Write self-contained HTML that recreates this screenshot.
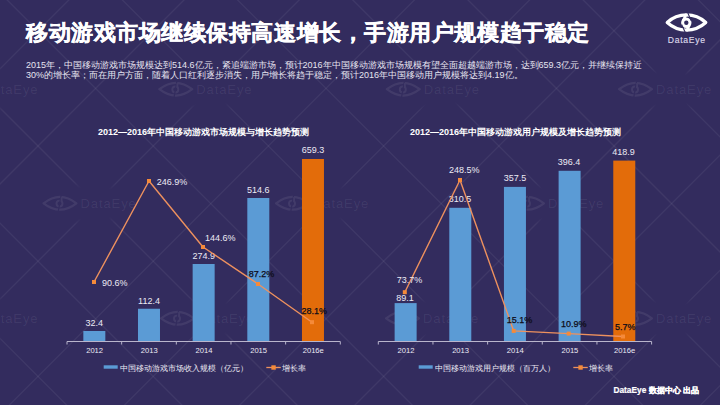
<!DOCTYPE html>
<html><head><meta charset="utf-8">
<style>
html,body{margin:0;padding:0;}
body{width:720px;height:405px;overflow:hidden;position:relative;background:#332c5e;font-family:"Liberation Sans",sans-serif;color:#fff;}
.abs{position:absolute;white-space:nowrap;line-height:1;}
#title{left:26px;top:21.7px;font-size:22px;letter-spacing:0.55px;font-weight:bold;-webkit-text-stroke:0.4px #fff;}
#para{left:26px;top:60px;font-size:9px;line-height:10px;color:#e6e4f0;}
.ct{font-size:9px;font-weight:bold;}
svg{position:absolute;left:0;top:0;font-family:"Liberation Sans",sans-serif;}
</style></head><body>
<svg width="720" height="405" viewBox="0 0 720 405">
<defs><filter id="bl" x="-5%" y="-5%" width="110%" height="110%"><feGaussianBlur stdDeviation="0.6"/></filter><radialGradient id="mk"><stop offset="0" stop-color="#332c5e" stop-opacity="1"/><stop offset="0.7" stop-color="#332c5e" stop-opacity="1"/><stop offset="1" stop-color="#332c5e" stop-opacity="0"/></radialGradient></defs>
<g stroke="#ffffff" stroke-opacity="0.06" stroke-width="1.3" filter="url(#bl)">
<line x1="-10" y1="-823.6" x2="740" y2="-73.6"/>
<line x1="-10" y1="-727.6" x2="740" y2="-1477.6"/>
<line x1="-10" y1="-708.4" x2="740" y2="41.6"/>
<line x1="-10" y1="-612.4" x2="740" y2="-1362.4"/>
<line x1="-10" y1="-593.2" x2="740" y2="156.8"/>
<line x1="-10" y1="-497.2" x2="740" y2="-1247.2"/>
<line x1="-10" y1="-478.0" x2="740" y2="272.0"/>
<line x1="-10" y1="-382.0" x2="740" y2="-1132.0"/>
<line x1="-10" y1="-362.8" x2="740" y2="387.2"/>
<line x1="-10" y1="-266.8" x2="740" y2="-1016.8"/>
<line x1="-10" y1="-247.6" x2="740" y2="502.4"/>
<line x1="-10" y1="-151.6" x2="740" y2="-901.6"/>
<line x1="-10" y1="-132.4" x2="740" y2="617.6"/>
<line x1="-10" y1="-36.4" x2="740" y2="-786.4"/>
<line x1="-10" y1="-17.2" x2="740" y2="732.8"/>
<line x1="-10" y1="78.8" x2="740" y2="-671.2"/>
<line x1="-10" y1="98.0" x2="740" y2="848.0"/>
<line x1="-10" y1="194.0" x2="740" y2="-556.0"/>
<line x1="-10" y1="213.2" x2="740" y2="963.2"/>
<line x1="-10" y1="309.2" x2="740" y2="-440.8"/>
<line x1="-10" y1="328.4" x2="740" y2="1078.4"/>
<line x1="-10" y1="424.4" x2="740" y2="-325.6"/>
<line x1="-10" y1="443.6" x2="740" y2="1193.6"/>
<line x1="-10" y1="539.6" x2="740" y2="-210.4"/>
<line x1="-10" y1="558.8" x2="740" y2="1308.8"/>
<line x1="-10" y1="654.8" x2="740" y2="-95.2"/>
<line x1="-10" y1="674.0" x2="740" y2="1424.0"/>
<line x1="-10" y1="770.0" x2="740" y2="20.0"/>
<line x1="-10" y1="789.2" x2="740" y2="1539.2"/>
<line x1="-10" y1="885.2" x2="740" y2="135.2"/>
<line x1="-10" y1="904.4" x2="740" y2="1654.4"/>
<line x1="-10" y1="1000.4" x2="740" y2="250.4"/>
<line x1="-10" y1="1019.6" x2="740" y2="1769.6"/>
<line x1="-10" y1="1115.6" x2="740" y2="365.6"/>
<line x1="-10" y1="1134.8" x2="740" y2="1884.8"/>
<line x1="-10" y1="1230.8" x2="740" y2="480.8"/>
</g>
<ellipse cx="-8.700000000000003" cy="89.2" rx="62" ry="22" fill="url(#mk)"/>
<ellipse cx="205.3" cy="89.2" rx="62" ry="22" fill="url(#mk)"/>
<ellipse cx="432.8" cy="89.2" rx="62" ry="22" fill="url(#mk)"/>
<ellipse cx="665" cy="89.2" rx="62" ry="22" fill="url(#mk)"/>
<ellipse cx="89.5" cy="203.3" rx="62" ry="22" fill="url(#mk)"/>
<ellipse cx="322" cy="203.3" rx="62" ry="22" fill="url(#mk)"/>
<ellipse cx="557" cy="203.3" rx="62" ry="22" fill="url(#mk)"/>
<ellipse cx="-8.700000000000003" cy="318.3" rx="62" ry="22" fill="url(#mk)"/>
<ellipse cx="207" cy="318.3" rx="62" ry="22" fill="url(#mk)"/>
<ellipse cx="432" cy="318.3" rx="62" ry="22" fill="url(#mk)"/>
<ellipse cx="665" cy="318.3" rx="62" ry="22" fill="url(#mk)"/>
<g opacity="0.07">
<path d="M-54.60,89.20 Q-38.20,76.40 -21.80,89.20 Q-38.20,102.00 -54.60,89.20 Z" fill="none" stroke="#ffffff" stroke-width="2.2" stroke-linejoin="round"/>
<circle cx="-38.70" cy="89.50" r="3.00" fill="none" stroke="#ffffff" stroke-width="1.87"/>
<line x1="-37.00" y1="80.70" x2="-40.00" y2="97.70" stroke="#332c5e" stroke-width="1.21"/>
<line x1="-36.60" y1="83.02" x2="-36.60" y2="87.40" stroke="#ffffff" stroke-width="1.76"/>
</g>
<text x="-17.700000000000003" y="94.2" font-size="13" letter-spacing="0.9" fill="#ffffff" fill-opacity="0.07">DataEye</text>
<g opacity="0.07">
<path d="M159.40,89.20 Q175.80,76.40 192.20,89.20 Q175.80,102.00 159.40,89.20 Z" fill="none" stroke="#ffffff" stroke-width="2.2" stroke-linejoin="round"/>
<circle cx="175.30" cy="89.50" r="3.00" fill="none" stroke="#ffffff" stroke-width="1.87"/>
<line x1="177.00" y1="80.70" x2="174.00" y2="97.70" stroke="#332c5e" stroke-width="1.21"/>
<line x1="177.40" y1="83.02" x2="177.40" y2="87.40" stroke="#ffffff" stroke-width="1.76"/>
</g>
<text x="196.3" y="94.2" font-size="13" letter-spacing="0.9" fill="#ffffff" fill-opacity="0.07">DataEye</text>
<g opacity="0.07">
<path d="M386.90,89.20 Q403.30,76.40 419.70,89.20 Q403.30,102.00 386.90,89.20 Z" fill="none" stroke="#ffffff" stroke-width="2.2" stroke-linejoin="round"/>
<circle cx="402.80" cy="89.50" r="3.00" fill="none" stroke="#ffffff" stroke-width="1.87"/>
<line x1="404.50" y1="80.70" x2="401.50" y2="97.70" stroke="#332c5e" stroke-width="1.21"/>
<line x1="404.90" y1="83.02" x2="404.90" y2="87.40" stroke="#ffffff" stroke-width="1.76"/>
</g>
<text x="423.8" y="94.2" font-size="13" letter-spacing="0.9" fill="#ffffff" fill-opacity="0.07">DataEye</text>
<g opacity="0.07">
<path d="M619.10,89.20 Q635.50,76.40 651.90,89.20 Q635.50,102.00 619.10,89.20 Z" fill="none" stroke="#ffffff" stroke-width="2.2" stroke-linejoin="round"/>
<circle cx="635.00" cy="89.50" r="3.00" fill="none" stroke="#ffffff" stroke-width="1.87"/>
<line x1="636.70" y1="80.70" x2="633.70" y2="97.70" stroke="#332c5e" stroke-width="1.21"/>
<line x1="637.10" y1="83.02" x2="637.10" y2="87.40" stroke="#ffffff" stroke-width="1.76"/>
</g>
<text x="656" y="94.2" font-size="13" letter-spacing="0.9" fill="#ffffff" fill-opacity="0.07">DataEye</text>
<g opacity="0.07">
<path d="M43.60,203.30 Q60.00,190.50 76.40,203.30 Q60.00,216.10 43.60,203.30 Z" fill="none" stroke="#ffffff" stroke-width="2.2" stroke-linejoin="round"/>
<circle cx="59.50" cy="203.60" r="3.00" fill="none" stroke="#ffffff" stroke-width="1.87"/>
<line x1="61.20" y1="194.80" x2="58.20" y2="211.80" stroke="#332c5e" stroke-width="1.21"/>
<line x1="61.60" y1="197.12" x2="61.60" y2="201.50" stroke="#ffffff" stroke-width="1.76"/>
</g>
<text x="80.5" y="208.3" font-size="13" letter-spacing="0.9" fill="#ffffff" fill-opacity="0.07">DataEye</text>
<g opacity="0.07">
<path d="M276.10,203.30 Q292.50,190.50 308.90,203.30 Q292.50,216.10 276.10,203.30 Z" fill="none" stroke="#ffffff" stroke-width="2.2" stroke-linejoin="round"/>
<circle cx="292.00" cy="203.60" r="3.00" fill="none" stroke="#ffffff" stroke-width="1.87"/>
<line x1="293.70" y1="194.80" x2="290.70" y2="211.80" stroke="#332c5e" stroke-width="1.21"/>
<line x1="294.10" y1="197.12" x2="294.10" y2="201.50" stroke="#ffffff" stroke-width="1.76"/>
</g>
<text x="313" y="208.3" font-size="13" letter-spacing="0.9" fill="#ffffff" fill-opacity="0.07">DataEye</text>
<g opacity="0.07">
<path d="M511.10,203.30 Q527.50,190.50 543.90,203.30 Q527.50,216.10 511.10,203.30 Z" fill="none" stroke="#ffffff" stroke-width="2.2" stroke-linejoin="round"/>
<circle cx="527.00" cy="203.60" r="3.00" fill="none" stroke="#ffffff" stroke-width="1.87"/>
<line x1="528.70" y1="194.80" x2="525.70" y2="211.80" stroke="#332c5e" stroke-width="1.21"/>
<line x1="529.10" y1="197.12" x2="529.10" y2="201.50" stroke="#ffffff" stroke-width="1.76"/>
</g>
<text x="548" y="208.3" font-size="13" letter-spacing="0.9" fill="#ffffff" fill-opacity="0.07">DataEye</text>
<g opacity="0.07">
<path d="M-54.60,318.30 Q-38.20,305.50 -21.80,318.30 Q-38.20,331.10 -54.60,318.30 Z" fill="none" stroke="#ffffff" stroke-width="2.2" stroke-linejoin="round"/>
<circle cx="-38.70" cy="318.60" r="3.00" fill="none" stroke="#ffffff" stroke-width="1.87"/>
<line x1="-37.00" y1="309.80" x2="-40.00" y2="326.80" stroke="#332c5e" stroke-width="1.21"/>
<line x1="-36.60" y1="312.12" x2="-36.60" y2="316.50" stroke="#ffffff" stroke-width="1.76"/>
</g>
<text x="-17.700000000000003" y="323.3" font-size="13" letter-spacing="0.9" fill="#ffffff" fill-opacity="0.07">DataEye</text>
<g opacity="0.07">
<path d="M161.10,318.30 Q177.50,305.50 193.90,318.30 Q177.50,331.10 161.10,318.30 Z" fill="none" stroke="#ffffff" stroke-width="2.2" stroke-linejoin="round"/>
<circle cx="177.00" cy="318.60" r="3.00" fill="none" stroke="#ffffff" stroke-width="1.87"/>
<line x1="178.70" y1="309.80" x2="175.70" y2="326.80" stroke="#332c5e" stroke-width="1.21"/>
<line x1="179.10" y1="312.12" x2="179.10" y2="316.50" stroke="#ffffff" stroke-width="1.76"/>
</g>
<text x="198" y="323.3" font-size="13" letter-spacing="0.9" fill="#ffffff" fill-opacity="0.07">DataEye</text>
<g opacity="0.07">
<path d="M386.10,318.30 Q402.50,305.50 418.90,318.30 Q402.50,331.10 386.10,318.30 Z" fill="none" stroke="#ffffff" stroke-width="2.2" stroke-linejoin="round"/>
<circle cx="402.00" cy="318.60" r="3.00" fill="none" stroke="#ffffff" stroke-width="1.87"/>
<line x1="403.70" y1="309.80" x2="400.70" y2="326.80" stroke="#332c5e" stroke-width="1.21"/>
<line x1="404.10" y1="312.12" x2="404.10" y2="316.50" stroke="#ffffff" stroke-width="1.76"/>
</g>
<text x="423" y="323.3" font-size="13" letter-spacing="0.9" fill="#ffffff" fill-opacity="0.07">DataEye</text>
<g opacity="0.07">
<path d="M619.10,318.30 Q635.50,305.50 651.90,318.30 Q635.50,331.10 619.10,318.30 Z" fill="none" stroke="#ffffff" stroke-width="2.2" stroke-linejoin="round"/>
<circle cx="635.00" cy="318.60" r="3.00" fill="none" stroke="#ffffff" stroke-width="1.87"/>
<line x1="636.70" y1="309.80" x2="633.70" y2="326.80" stroke="#332c5e" stroke-width="1.21"/>
<line x1="637.10" y1="312.12" x2="637.10" y2="316.50" stroke="#ffffff" stroke-width="1.76"/>
</g>
<text x="656" y="323.3" font-size="13" letter-spacing="0.9" fill="#ffffff" fill-opacity="0.07">DataEye</text>
</svg>
<div id="title" class="abs">移动游戏市场继续保持高速增长，手游用户规模趋于稳定</div>
<div id="para" class="abs">2015年，中国移动游戏市场规模达到514.6亿元，紧追端游市场，预计2016年中国移动游戏市场规模有望全面超越端游市场，达到659.3亿元，并继续保持近<br>30%的增长率；而在用户方面，随着人口红利逐步消失，用户增长将趋于稳定，预计2016年中国移动用户规模将达到4.19亿。</div>
<div class="abs ct" style="left:98px;top:128px;">2012—2016年中国移动游戏市场规模与增长趋势预测</div>
<div class="abs ct" style="left:410px;top:128px;">2012—2016年中国移动游戏用户规模及增长趋势预测</div>
<svg width="720" height="405" viewBox="0 0 720 405">
<rect x="83.33" y="331.00" width="22" height="10.50" fill="#5b9bd5"/>
<rect x="137.99" y="308.75" width="22" height="32.75" fill="#5b9bd5"/>
<rect x="192.65" y="264.00" width="22" height="77.50" fill="#5b9bd5"/>
<rect x="247.31" y="198.00" width="22" height="143.50" fill="#5b9bd5"/>
<rect x="301.97" y="159.00" width="22" height="182.50" fill="#e36c0a"/>
<line x1="67.00" y1="341.5" x2="340.30" y2="341.5" stroke="#b9b5cc" stroke-width="1"/>
<line x1="67.00" y1="341.5" x2="67.00" y2="344.5" stroke="#b9b5cc" stroke-width="1"/>
<line x1="121.66" y1="341.5" x2="121.66" y2="344.5" stroke="#b9b5cc" stroke-width="1"/>
<line x1="176.32" y1="341.5" x2="176.32" y2="344.5" stroke="#b9b5cc" stroke-width="1"/>
<line x1="230.98" y1="341.5" x2="230.98" y2="344.5" stroke="#b9b5cc" stroke-width="1"/>
<line x1="285.64" y1="341.5" x2="285.64" y2="344.5" stroke="#b9b5cc" stroke-width="1"/>
<line x1="340.30" y1="341.5" x2="340.30" y2="344.5" stroke="#b9b5cc" stroke-width="1"/>
<text x="94.63" y="353.00" font-size="7.6" fill="#eceaf4" text-anchor="middle" font-weight="normal" >2012</text>
<text x="149.29" y="353.00" font-size="7.6" fill="#eceaf4" text-anchor="middle" font-weight="normal" >2013</text>
<text x="203.95" y="353.00" font-size="7.6" fill="#eceaf4" text-anchor="middle" font-weight="normal" >2014</text>
<text x="258.61" y="353.00" font-size="7.6" fill="#eceaf4" text-anchor="middle" font-weight="normal" >2015</text>
<text x="313.27" y="353.00" font-size="7.6" fill="#eceaf4" text-anchor="middle" font-weight="normal" >2016e</text>
<text x="94.33" y="326.00" font-size="9" fill="#eceaf4" text-anchor="middle" font-weight="normal" >32.4</text>
<text x="148.99" y="304.20" font-size="9" fill="#eceaf4" text-anchor="middle" font-weight="normal" >112.4</text>
<text x="203.65" y="258.90" font-size="9" fill="#eceaf4" text-anchor="middle" font-weight="normal" >274.9</text>
<text x="258.31" y="192.80" font-size="9" fill="#eceaf4" text-anchor="middle" font-weight="normal" >514.6</text>
<text x="312.97" y="153.00" font-size="9" fill="#eceaf4" text-anchor="middle" font-weight="normal" >659.3</text>
<polyline points="94.00,282.00 149.00,181.00 203.00,247.00 258.00,284.00 312.00,322.20" fill="none" stroke="#ee915e" stroke-width="1.4" stroke-linejoin="round"/>
<rect x="92.00" y="280.00" width="4" height="4" fill="#f58a3a"/>
<rect x="147.00" y="179.00" width="4" height="4" fill="#f58a3a"/>
<rect x="201.00" y="245.00" width="4" height="4" fill="#f58a3a"/>
<rect x="256.00" y="282.00" width="4" height="4" fill="#f58a3a"/>
<rect x="310.00" y="320.20" width="4" height="4" fill="#f58a3a"/>
<text x="102.00" y="286.00" font-size="9" fill="#eceaf4" text-anchor="start" font-weight="normal" >90.6%</text>
<text x="156.70" y="185.00" font-size="9" fill="#eceaf4" text-anchor="start" font-weight="normal" >246.9%</text>
<text x="205.00" y="241.10" font-size="9" fill="#eceaf4" text-anchor="start" font-weight="normal" >144.6%</text>
<text x="248.75" y="277.00" font-size="9" fill="#0e0c18" text-anchor="start" font-weight="normal" stroke="#0e0c18" stroke-width="0.25">87.2%</text>
<text x="301.50" y="314.10" font-size="9" fill="#0e0c18" text-anchor="start" font-weight="normal" stroke="#0e0c18" stroke-width="0.25">28.1%</text>
<rect x="394.63" y="303.10" width="22" height="38.40" fill="#5b9bd5"/>
<rect x="449.29" y="207.80" width="22" height="133.70" fill="#5b9bd5"/>
<rect x="503.95" y="186.90" width="22" height="154.60" fill="#5b9bd5"/>
<rect x="558.61" y="170.80" width="22" height="170.70" fill="#5b9bd5"/>
<rect x="613.27" y="160.60" width="22" height="180.90" fill="#e36c0a"/>
<line x1="378.30" y1="341.5" x2="651.60" y2="341.5" stroke="#b9b5cc" stroke-width="1"/>
<line x1="378.30" y1="341.5" x2="378.30" y2="344.5" stroke="#b9b5cc" stroke-width="1"/>
<line x1="432.96" y1="341.5" x2="432.96" y2="344.5" stroke="#b9b5cc" stroke-width="1"/>
<line x1="487.62" y1="341.5" x2="487.62" y2="344.5" stroke="#b9b5cc" stroke-width="1"/>
<line x1="542.28" y1="341.5" x2="542.28" y2="344.5" stroke="#b9b5cc" stroke-width="1"/>
<line x1="596.94" y1="341.5" x2="596.94" y2="344.5" stroke="#b9b5cc" stroke-width="1"/>
<line x1="651.60" y1="341.5" x2="651.60" y2="344.5" stroke="#b9b5cc" stroke-width="1"/>
<text x="405.93" y="353.00" font-size="7.6" fill="#eceaf4" text-anchor="middle" font-weight="normal" >2012</text>
<text x="460.59" y="353.00" font-size="7.6" fill="#eceaf4" text-anchor="middle" font-weight="normal" >2013</text>
<text x="515.25" y="353.00" font-size="7.6" fill="#eceaf4" text-anchor="middle" font-weight="normal" >2014</text>
<text x="569.91" y="353.00" font-size="7.6" fill="#eceaf4" text-anchor="middle" font-weight="normal" >2015</text>
<text x="624.57" y="353.00" font-size="7.6" fill="#eceaf4" text-anchor="middle" font-weight="normal" >2016e</text>
<text x="405.00" y="301.10" font-size="9" fill="#eceaf4" text-anchor="middle" font-weight="normal" >89.1</text>
<text x="460.00" y="202.00" font-size="9" fill="#eceaf4" text-anchor="middle" font-weight="normal" >310.5</text>
<text x="515.00" y="181.00" font-size="9" fill="#eceaf4" text-anchor="middle" font-weight="normal" >357.5</text>
<text x="569.00" y="165.00" font-size="9" fill="#eceaf4" text-anchor="middle" font-weight="normal" >396.4</text>
<text x="623.60" y="155.00" font-size="9" fill="#eceaf4" text-anchor="middle" font-weight="normal" >418.9</text>
<polyline points="404.80,292.20 460.00,180.00 513.70,330.90 568.70,333.60 623.00,336.50" fill="none" stroke="#ee915e" stroke-width="1.4" stroke-linejoin="round"/>
<rect x="402.80" y="290.20" width="4" height="4" fill="#f58a3a"/>
<rect x="458.00" y="178.00" width="4" height="4" fill="#f58a3a"/>
<rect x="511.70" y="328.90" width="4" height="4" fill="#f58a3a"/>
<rect x="566.70" y="331.60" width="4" height="4" fill="#f58a3a"/>
<rect x="621.00" y="334.50" width="4" height="4" fill="#f58a3a"/>
<text x="396.70" y="283.00" font-size="9" fill="#eceaf4" text-anchor="start" font-weight="normal" >73.7%</text>
<text x="448.90" y="173.00" font-size="9" fill="#eceaf4" text-anchor="start" font-weight="normal" >248.5%</text>
<text x="506.80" y="322.90" font-size="9" fill="#0e0c18" text-anchor="start" font-weight="normal" stroke="#0e0c18" stroke-width="0.25">15.1%</text>
<text x="561.00" y="327.00" font-size="9" fill="#0e0c18" text-anchor="start" font-weight="normal" stroke="#0e0c18" stroke-width="0.25">10.9%</text>
<text x="615.00" y="329.70" font-size="9" fill="#0e0c18" text-anchor="start" font-weight="normal" stroke="#0e0c18" stroke-width="0.25">5.7%</text>
<rect x="103.7" y="365.3" width="14" height="3.4" fill="#5b9bd5"/>
<text x="119.70" y="371.00" font-size="8" fill="#eceaf4" text-anchor="start" font-weight="normal" >中国移动游戏市场收入规模（亿元）</text>
<line x1="266.3" y1="367.5" x2="280.8" y2="367.5" stroke="#ee915e" stroke-width="1.3"/>
<rect x="271.35" y="365.3" width="4.4" height="4.4" fill="#f58a3a"/>
<text x="281.70" y="371.00" font-size="8" fill="#eceaf4" text-anchor="start" font-weight="normal" >增长率</text>
<rect x="418.7" y="365.3" width="14" height="3.4" fill="#5b9bd5"/>
<text x="434.70" y="371.00" font-size="8" fill="#eceaf4" text-anchor="start" font-weight="normal" >中国移动游戏用户规模（百万人）</text>
<line x1="573.3" y1="367.5" x2="587.8" y2="367.5" stroke="#ee915e" stroke-width="1.3"/>
<rect x="578.3499999999999" y="365.3" width="4.4" height="4.4" fill="#f58a3a"/>
<text x="588.70" y="371.00" font-size="8" fill="#eceaf4" text-anchor="start" font-weight="normal" >增长率</text>
<path d="M667.2,22.5 A28.5,28.5 0 0 1 705.8,22.5 A28.5,28.5 0 0 1 667.2,22.5 Z" fill="none" stroke="#fff" stroke-width="3.2" stroke-linejoin="round"/>
<circle cx="686.3" cy="22.7" r="3.7" fill="none" stroke="#fff" stroke-width="3"/>
<path d="M683.2,20.5 L686.4,14" stroke="#fff" stroke-width="2.8"/>
<path d="M689.4,24.9 L686.6,31" stroke="#fff" stroke-width="2.8"/>
<path d="M687.7,12.5 L691,20.6" stroke="#332c5e" stroke-width="1.1"/>
<path d="M681.6,24.6 L685.3,32.5" stroke="#332c5e" stroke-width="1.1"/>
<text x="667.8" y="43" font-size="8.6" letter-spacing="0.7" fill="#dcd8ea" stroke="#dcd8ea" stroke-width="0.15">DataEye</text>
</svg>
<div class="abs" style="left:613.5px;top:385.5px;font-size:8.3px;font-weight:bold;-webkit-text-stroke:0.2px #fff;">DataEye 数据中心 出品</div>
</body></html>
